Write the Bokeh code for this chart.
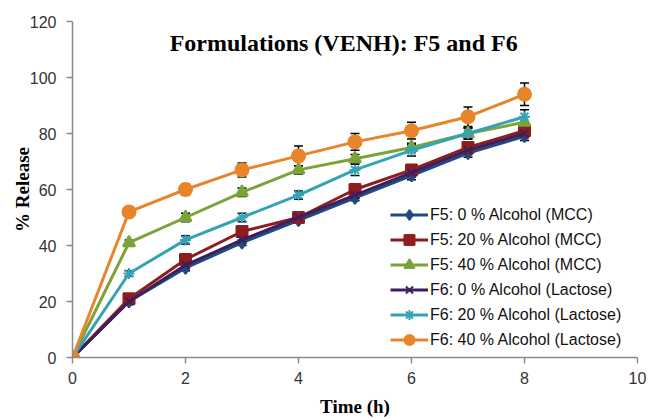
from bokeh.plotting import figure
from bokeh.models import Label, Whisker, ColumnDataSource, Legend
from bokeh.embed import file_html
from bokeh.resources import INLINE

time_h = [0, 1, 2, 3, 4, 5, 6, 7, 8]

f5_0 = [0, 20, 32, 41, 49, 57, 65, 73, 79]
f5_20 = [0, 21, 35, 45, 50, 60, 67, 75, 81]
f5_40 = [0, 41, 50, 59, 67, 71, 75, 80, 84]
f6_0 = [0, 20, 33, 42, 50, 58, 66, 74, 80]
f6_20 = [0, 30, 42, 50, 58, 67, 74, 80, 86]
f6_40 = [0, 52, 60, 67, 72, 77, 81, 86, 94]

err_f5_0 = [0, 1, 1, 1, 1, 1, 1.5, 1.5, 1.5]
err_f5_20 = [0, 1, 1.5, 1.5, 1, 1.5, 1.5, 1.5, 1.5]
err_f5_40 = [0, 1, 1.5, 1.5, 1.5, 1.5, 1.5, 2, 2]
err_f6_0 = [0, 1, 1, 1, 1, 1, 1.5, 1.5, 1.5]
err_f6_20 = [0, 1, 1.5, 1.5, 1.5, 2, 2, 2, 2.5]
err_f6_40 = [0, 1.5, 2, 2.5, 3.5, 3, 3, 3.5, 4]

labels = [
    "F5: 0 % Alcohol (MCC)",
    "F5: 20 % Alcohol (MCC)",
    "F5: 40 % Alcohol (MCC)",
    "F6: 0 % Alcohol (Lactose)",
    "F6: 20 % Alcohol (Lactose)",
    "F6: 40 % Alcohol (Lactose)",
]

series = [f5_0, f5_20, f5_40, f6_0, f6_20, f6_40]
errors = [err_f5_0, err_f5_20, err_f5_40, err_f6_0, err_f6_20, err_f6_40]
colors = ["#1f4a82", "#8e1d1f", "#7aa33a", "#3c1f5c", "#33a3b5", "#e8852b"]
markers = ["diamond", "square", "triangle", "x", "asterisk", "circle"]
msizes = [12, 11, 12, 11, 11, 13]

p = figure(width=652, height=419, output_backend="svg", toolbar_location=None,
           x_range=(0, 10), y_range=(0, 120),
           min_border_left=72, min_border_right=15, min_border_top=21, min_border_bottom=59)
p.outline_line_color = None
p.xgrid.grid_line_color = None
p.ygrid.grid_line_color = None
p.background_fill_color = "white"
p.border_fill_color = "white"

for ax in (p.xaxis, p.yaxis):
    ax.axis_line_color = "#8a8a8a"
    ax.axis_line_width = 1.5
    ax.major_tick_line_color = "#8a8a8a"
    ax.major_tick_line_width = 1.5
    ax.major_tick_out = 6
    ax.major_tick_in = 0
    ax.minor_tick_line_color = None
    ax.major_label_text_font = "Liberation Sans"
    ax.major_label_text_font_size = "16px"
    ax.major_label_text_color = "#333333"

p.xaxis.ticker = [0, 2, 4, 6, 8, 10]
p.yaxis.ticker = [0, 20, 40, 60, 80, 100, 120]
p.xaxis.major_label_standoff = 8
p.yaxis.major_label_standoff = 10

p.xaxis.axis_label = "Time (h)"
p.xaxis.axis_label_text_font = "Liberation Serif"
p.xaxis.axis_label_text_font_style = "bold"
p.xaxis.axis_label_text_font_size = "19px"
p.xaxis.axis_label_text_color = "black"
p.xaxis.axis_label_standoff = 9

p.yaxis.axis_label = "% Release"
p.yaxis.axis_label_text_font = "Liberation Serif"
p.yaxis.axis_label_text_font_style = "bold"
p.yaxis.axis_label_text_font_size = "19px"
p.yaxis.axis_label_text_color = "black"
p.yaxis.axis_label_standoff = -6

items = []
for ys, es, c, m, s, lab in zip(series, errors, colors, markers, msizes, labels):
    src = ColumnDataSource(dict(x=time_h, y=ys,
                                lo=[a - b for a, b in zip(ys, es)],
                                hi=[a + b for a, b in zip(ys, es)]))
    w = Whisker(source=src, base="x", lower="lo", upper="hi", line_color="black", line_width=1.5)
    w.upper_head.size = 9
    w.lower_head.size = 9
    w.upper_head.line_width = 1.5
    w.lower_head.line_width = 1.5
    p.add_layout(w)
    r1 = p.line("x", "y", source=src, line_color=c, line_width=3)
    r2 = p.scatter("x", "y", source=src, marker=m, size=s, fill_color=c, line_color=c, line_width=2)
    items.append((lab, [r1, r2]))

legend = Legend(items=items, location=(318, 5))
legend.border_line_color = None
legend.background_fill_alpha = 0
legend.padding = 0
legend.margin = 0
legend.spacing = 0
legend.label_height = 25
legend.glyph_height = 25
legend.glyph_width = 38
legend.label_standoff = 2
legend.label_text_font = "Liberation Sans"
legend.label_text_font_size = "16px"
legend.label_text_color = "#111111"
p.add_layout(legend, "center")

title = Label(x=4.8, y=112.5, text="Formulations (VENH): F5 and F6",
              text_font="Liberation Serif", text_font_style="bold", text_font_size="24px",
              text_align="center", text_baseline="middle", text_color="black")
p.add_layout(title)

open("out.html", "w").write(file_html(p, INLINE))
